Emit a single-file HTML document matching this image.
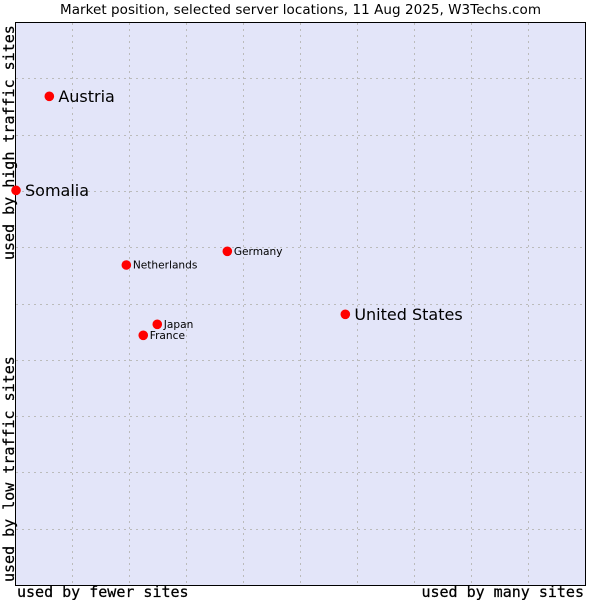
<!DOCTYPE html>
<html>
<head>
<meta charset="utf-8">
<title>Market position</title>
<style>
html,body{margin:0;padding:0;background:#fff;width:600px;height:600px;overflow:hidden}
svg{display:block}
.mono{font-family:"DejaVu Sans Mono","Liberation Mono",monospace;font-size:15px;fill:#000;stroke:#000;stroke-width:0.25px}
.sans{font-family:"DejaVu Sans","Liberation Sans",sans-serif;fill:#000}
</style>
</head>
<body>
<svg id="chart" xmlns="http://www.w3.org/2000/svg" width="600" height="600" viewBox="0 0 600 600">
  <rect x="15" y="22" width="570" height="563" fill="#e3e5f9"/>
  <g id="grid"></g>
  <rect x="15.5" y="22.5" width="570" height="563" fill="none" stroke="#000" stroke-width="1"/>
  <text class="sans" x="60" y="14" font-size="13.5" textLength="481" lengthAdjust="spacing" fill="#111">Market position, selected server locations, 11 Aug 2025, W3Techs.com</text>
  <text class="mono" x="17" y="597">used by fewer sites</text>
  <text class="mono" x="584" y="597" text-anchor="end">used by many sites</text>
  <text class="mono" transform="translate(14,260) rotate(-90)">used by high traffic sites</text>
  <text class="mono" transform="translate(14,582) rotate(-90)">used by low traffic sites</text>
  <g id="points"></g>
</svg>
<script>
var locations = ["Austria", "Somalia", "Germany", "Netherlands", "United States", "Japan", "France"];
var sitesShare = [6.02, 0.18, 37.25, 19.53, 57.95, 24.96, 22.5];
var trafficShare = [86.8, 70.1, 59.27, 56.84, 48.08, 46.3, 44.35];
var labelSizes = [16, 16, 10.6, 10.6, 16, 10.6, 10.6];
var gridTicks = [10, 20, 30, 40, 50, 60, 70, 80, 90];

var SVG_NS = "http://www.w3.org/2000/svg";
function xScale(v) { return 15 + v / 100 * 570; }
function yScale(v) { return 585 - v / 100 * 563; }

var gridGroup = document.getElementById("grid");
gridTicks.forEach(function (t) {
  var vx = Math.round(xScale(t)) + 0.5;
  var v = document.createElementNS(SVG_NS, "line");
  
  
  v.setAttribute("x1", vx); v.setAttribute("x2", vx);
  v.setAttribute("y1", 23); v.setAttribute("y2", 585);
  v.setAttribute("stroke", "#bbbbbb");
  v.setAttribute("stroke-dasharray", "2 4");
  gridGroup.appendChild(v);
  var hy = Math.round(yScale(t)) + 0.5;
  var h = document.createElementNS(SVG_NS, "line");
  
  
  h.setAttribute("x1", 16); h.setAttribute("x2", 585);
  h.setAttribute("y1", hy); h.setAttribute("y2", hy);
  h.setAttribute("stroke", "#bbbbbb");
  h.setAttribute("stroke-dasharray", "2 4");
  gridGroup.appendChild(h);
});

var pointGroup = document.getElementById("points");
locations.forEach(function (name, i) {
  var cx = xScale(sitesShare[i]);
  var cy = yScale(trafficShare[i]);
  var c = document.createElementNS(SVG_NS, "circle");
  
  
  c.setAttribute("cx", cx); c.setAttribute("cy", cy);
  c.setAttribute("r", 4.8);
  c.setAttribute("fill", "#ff0000");
  pointGroup.appendChild(c);
  var big = labelSizes[i] > 12;
  var t = document.createElementNS(SVG_NS, "text");
  
  
  t.setAttribute("class", "sans");
  t.setAttribute("x", cx + (big ? 9 : 6.5));
  t.setAttribute("y", cy + (big ? 5.5 : 3.5));
  t.setAttribute("font-size", labelSizes[i]);
  t.textContent = name;
  pointGroup.appendChild(t);
});
</script>
</body>
</html>
